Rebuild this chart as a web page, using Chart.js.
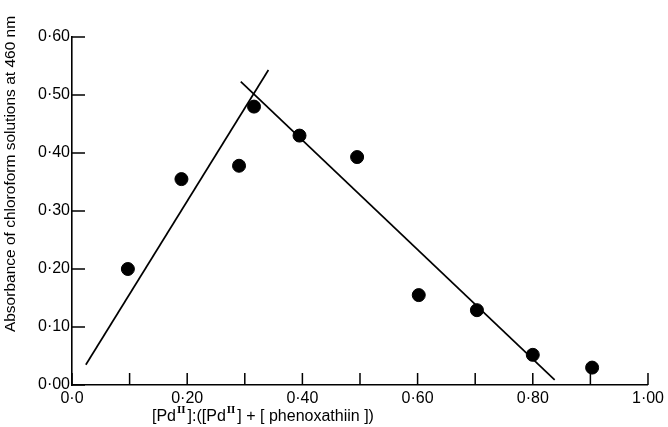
<!DOCTYPE html>
<html>
<head>
<meta charset="utf-8">
<script src="https://cdn.jsdelivr.net/npm/chart.js@4.4.0/dist/chart.umd.min.js"></script>
<style>
  html, body { margin: 0; padding: 0; background: #fff; }
  #wrap { width: 668px; height: 427px; }
</style>
</head>
<body>
<div id="wrap"><canvas id="chart" width="668" height="427"></canvas></div>
<script>
// measured points: mole fraction of Pd(II) vs absorbance
var ratio = [0.097, 0.19, 0.29, 0.316, 0.395, 0.495, 0.602, 0.703, 0.80, 0.903];
var absorbance = [0.20, 0.355, 0.378, 0.48, 0.43, 0.393, 0.155, 0.129, 0.052, 0.030];

// the two straight lines drawn through the points (end points)
var riseX = [0.024, 0.341];
var riseY = [0.035, 0.543];
var fallX = [0.293, 0.838];
var fallY = [0.523, 0.009];

var yTitle = "Absorbance of chloroform solutions at 460 nm";
// x title pieces: [text, superscript?]
var xTitleParts = [["[Pd", false], ["II", true], ["]:([Pd", false], ["II", true], ["] + [ phenoxathiin ])", false]];

var FONT = "'Liberation Sans', 'DejaVu Sans', sans-serif";

function pairs(xs, ys) {
	return xs.map(function (x, i) { return { x: x, y: ys[i] }; });
}

function dotLabel(v, digits) {
	return v.toFixed(digits).replace(".", "\u00B7");
}

// ticks pointing inside the plot plus the axis titles, as in the printed figure
var figureBits = {
	id: "figureBits",
	afterDatasetsDraw: function (chart) {
		var c = chart.ctx, xs = chart.scales.x, ys = chart.scales.y;
		c.save();
		c.strokeStyle = "#000";
		c.lineWidth = 1.5;
		c.beginPath();
		xs.ticks.forEach(function (t) {
			var px = xs.getPixelForValue(t.value);
			c.moveTo(px, ys.bottom);
			c.lineTo(px, ys.bottom - 12);
		});
		ys.ticks.forEach(function (t) {
			var py = ys.getPixelForValue(t.value);
			c.moveTo(xs.left, py);
			c.lineTo(xs.left + 13, py);
		});
		c.stroke();

		// y title
		c.fillStyle = "#000";
		c.font = "15.5px " + FONT;
		c.save();
		c.translate(11, 174);
		c.rotate(-Math.PI / 2);
		c.textAlign = "center";
		c.textBaseline = "middle";
		c.fillText(yTitle, 0, 0);
		c.restore();

		// x title with superscripts
		var x = 152, base = 421;
		c.textAlign = "left";
		c.textBaseline = "alphabetic";
		xTitleParts.forEach(function (p) {
			if (p[1]) {
				c.font = "bold 11px 'Liberation Serif', serif";
				c.fillText(p[0], x + 1, base - 8);
				x += c.measureText(p[0]).width + 3;
			} else {
				c.font = "16px " + FONT;
				c.fillText(p[0], x, base);
				x += c.measureText(p[0]).width;
			}
		});
		c.restore();
	}
};

Chart.defaults.font.family = FONT;
Chart.defaults.color = "#000";

new Chart(document.getElementById("chart"), {
	type: "scatter",
	data: {
		datasets: [
			{
				data: pairs(ratio, absorbance),
				backgroundColor: "#000",
				borderColor: "#000",
				pointRadius: 6.5,
				pointHoverRadius: 6.5
			},
			{
				type: "line",
				data: pairs(riseX, riseY),
				borderColor: "#000",
				borderWidth: 1.7,
				pointRadius: 0,
				fill: false
			},
			{
				type: "line",
				data: pairs(fallX, fallY),
				borderColor: "#000",
				borderWidth: 1.7,
				pointRadius: 0,
				fill: false
			}
		]
	},
	options: {
		responsive: false,
		animation: false,
		layout: { padding: { top: 37, right: 14, left: 2, bottom: 0 } },
		plugins: {
			legend: { display: false },
			tooltip: { enabled: false }
		},
		scales: {
			x: {
				type: "linear",
				min: 0,
				max: 1,
				grid: { drawOnChartArea: false, drawTicks: false },
				border: { color: "#000", width: 1.6 },
				ticks: {
					stepSize: 0.1,
					padding: 4,
					maxRotation: 0,
					autoSkip: false,
					font: { size: 16 },
					callback: function (v) {
						var n = Math.round(v * 10);
						if (n % 2 !== 0) return "";
						if (n === 0) return "0\u00B70";
						return dotLabel(n / 10, 2);
					}
				},
				afterFit: function (s) { s.height = 42; }
			},
			y: {
				min: 0,
				max: 0.6,
				grid: { drawOnChartArea: false, drawTicks: false },
				border: { color: "#000", width: 1.6 },
				ticks: {
					stepSize: 0.1,
					padding: 2,
					font: { size: 16 },
					callback: function (v) { return dotLabel(Math.round(v * 10) / 10, 2); }
				},
				afterFit: function (s) { s.width = 70; }
			}
		}
	},
	plugins: [figureBits]
});
</script>
</body>
</html>
